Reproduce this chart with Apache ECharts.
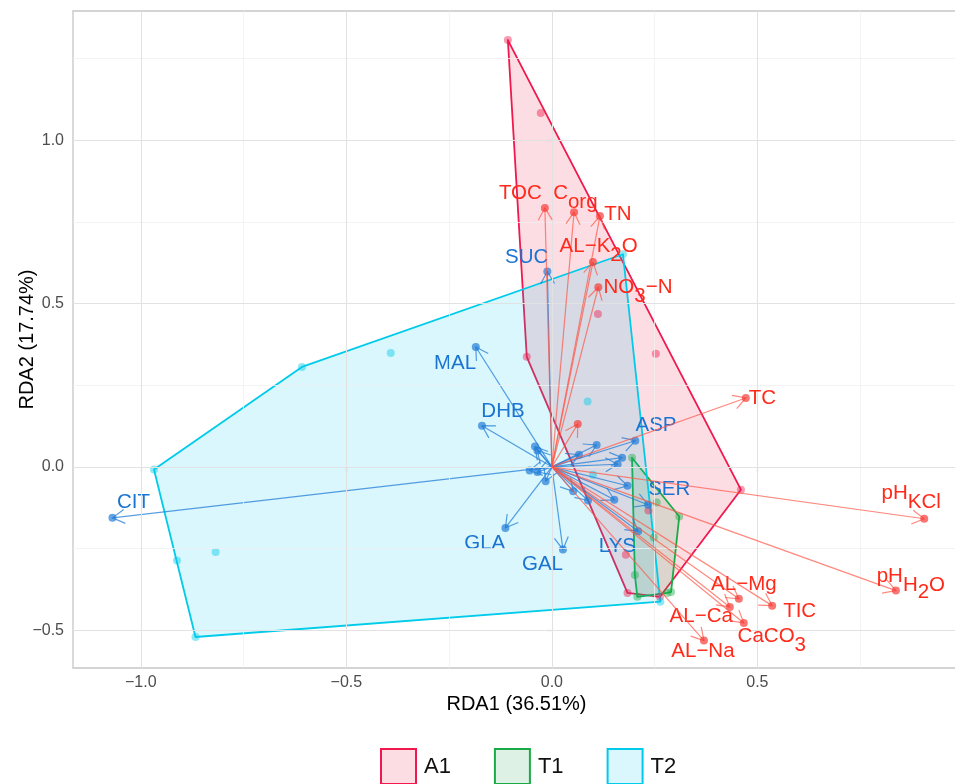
<!DOCTYPE html>
<html><head><meta charset="utf-8">
<script src="https://cdn.jsdelivr.net/npm/echarts@6/dist/echarts.min.js"></script>
<style>html,body{margin:0;padding:0;background:#fff}#c{width:955px;height:784px}</style>
</head><body><div id="c"></div>
<script>
// ---------------- data ----------------
const groupNames = ['A1', 'T1', 'T2'];
const a1X = [-0.107, -0.027, -0.061, 0.112, 0.253, 0.460, 0.184, 0.235, 0.180, 0.263];
const a1Y = [1.307, 1.084, 0.337, 0.468, 0.346, -0.070, -0.386, -0.134, -0.269, -0.398];
const t1X = [0.195, 0.255, 0.310, 0.248, 0.202, 0.208, 0.281, 0.290];
const t1Y = [0.028, -0.109, -0.152, -0.216, -0.331, -0.398, -0.386, -0.383];
const t2X = [-0.968, -0.912, -0.867, -0.818, -0.608, -0.392, 0.173, 0.087, 0.100, 0.264];
const t2Y = [-0.008, -0.287, -0.521, -0.261, 0.306, 0.349, 0.651, 0.200, -0.024, -0.413];

// environmental variables (red arrows)
const envNames = ['TOC', 'C_{org}', 'TN', 'AL−K_{2}O', 'NO_{3}−N', 'TC', 'pH_{KCl}', 'pH_{H_{2}O}', 'AL−Mg', 'TIC', 'AL−Ca', 'CaCO_{3}', 'AL−Na', ''];
const envX = [-0.017, 0.054, 0.117, 0.100, 0.113, 0.472, 0.906, 0.837, 0.455, 0.536, 0.433, 0.467, 0.370, 0.063];
const envY = [0.793, 0.780, 0.768, 0.627, 0.550, 0.211, -0.159, -0.379, -0.404, -0.425, -0.429, -0.478, -0.532, 0.131];

// metabolites (blue arrows)
const metNames = ['SUC', 'MAL', 'DHB', 'CIT', 'GLA', 'GAL', 'LYS', 'SER', 'ASP', '', '', '', '', '', '', '', '', '', '', '', '', ''];
const metX = [-0.011, -0.185, -0.170, -1.069, -0.113, 0.027, 0.210, 0.234, 0.203, -0.041, -0.035, -0.054, -0.035, -0.015, 0.066, 0.109, 0.171, 0.160, 0.184, 0.152, 0.052, 0.088];
const metY = [0.598, 0.367, 0.126, -0.156, -0.187, -0.253, -0.197, -0.116, 0.080, 0.062, 0.050, -0.011, -0.016, -0.044, 0.037, 0.067, 0.028, 0.008, -0.058, -0.101, -0.075, -0.103];

const xTicks = [-1.0, -0.5, 0.0, 0.5];
const yTicks = [-0.5, 0.0, 0.5, 1.0];
const xMinor = [-0.75, -0.25, 0.25, 0.75];
const yMinor = [-0.25, 0.25, 0.75, 1.25];

// ---------------- layout / style ----------------
const groupColors = ['#F0184C', '#1AAA47', '#00CBEA'];
const envLabelOffset = [[-24.5, -15], [1.3, -18.7], [18, -1.7], [5.7, -15.6], [39.7, 0], [16.5, 0], [-13, -25], [15, -14.5], [5, -14], [27.5, 6], [-28.6, 9], [28, 13.4], [-1, 11], [0, 0]];
const metLabelOffset = [[-20.6, -14.4], [-20.7, 16.3], [21, -14.7], [21, -15.3], [-20.7, 15.3], [-20.5, 15.3], [-20.8, 15.2], [21.2, -15], [20.7, -15.3]];
const FONT = '"Liberation Sans", Arial, Helvetica, sans-serif';
const LABEL_SIZE = 20.5;
const SUB_DROP = 9;

function rgba(hex, a) {
  const n = parseInt(hex.slice(1), 16);
  return `rgba(${(n >> 16) & 255},${(n >> 8) & 255},${n & 255},${a})`;
}
function zip(xs, ys) { return xs.map((x, i) => [x, ys[i]]); }
function hull(pts) {
  const p = pts.slice().sort((a, b) => a[0] - b[0] || a[1] - b[1]);
  const cross = (o, a, b) => (a[0] - o[0]) * (b[1] - o[1]) - (a[1] - o[1]) * (b[0] - o[0]);
  const lo = [], up = [];
  for (const q of p) { while (lo.length >= 2 && cross(lo[lo.length - 2], lo[lo.length - 1], q) <= 0) lo.pop(); lo.push(q); }
  for (let i = p.length - 1; i >= 0; i--) { const q = p[i]; while (up.length >= 2 && cross(up[up.length - 2], up[up.length - 1], q) <= 0) up.pop(); up.push(q); }
  up.pop(); lo.pop();
  return lo.concat(up);
}
const measureCtx = document.createElement('canvas').getContext('2d');
function parseLabel(s, level, out) {
  let i = 0, buf = '';
  while (i < s.length) {
    if (s[i] === '_' && s[i + 1] === '{') {
      if (buf) { out.push({ t: buf, l: level }); buf = ''; }
      let depth = 1, j = i + 2;
      while (j < s.length && depth > 0) { if (s[j] === '{') depth++; else if (s[j] === '}') depth--; j++; }
      parseLabel(s.slice(i + 2, j - 1), level + 1, out);
      i = j;
    } else { buf += s[i]; i++; }
  }
  if (buf) out.push({ t: buf, l: level });
  return out;
}
function labelElements(name, cx, cy, color) {
  const segs = parseLabel(name, 0, []);
  measureCtx.font = LABEL_SIZE + 'px ' + FONT;
  const widths = segs.map(s => measureCtx.measureText(s.t).width);
  const total = widths.reduce((a, b) => a + b, 0);
  let x = cx - total / 2;
  return segs.map((s, k) => {
    const el = {
      type: 'text', silent: true,
      style: { text: s.t, x: x, y: cy + (s.l === 0 ? 0 : (s.l === 1 ? SUB_DROP : SUB_DROP + 7)), fill: color,
        fontSize: LABEL_SIZE, fontFamily: FONT, align: 'left', verticalAlign: 'middle' }
    };
    x += widths[k];
    return el;
  });
}

const datasets = [zip(a1X, a1Y), zip(t1X, t1Y), zip(t2X, t2Y)];

const series = [];
// gridlines
const gl = (axis, v, major) => ({ [axis]: v, lineStyle: { color: major ? '#E2E2E2' : '#F0F0F0', width: major ? 1.1 : 0.8, type: 'solid' } });
series.push({
  type: 'line', data: [], z: 0, silent: true,
  markLine: {
    silent: true, symbol: ['none', 'none'], label: { show: false }, animation: false,
    data: [].concat(xMinor.map(v => gl('xAxis', v, false)), yMinor.map(v => gl('yAxis', v, false)),
      xTicks.map(v => gl('xAxis', v, true)), yTicks.map(v => gl('yAxis', v, true)))
  }
});
// hull polygons
groupNames.forEach((g, gi) => {
  const h = hull(datasets[gi]);
  series.push({
    type: 'custom', name: g, coordinateSystem: 'cartesian2d', z: 2, silent: true,
    data: h, encode: { x: 0, y: 1 },
    itemStyle: { color: groupColors[gi] },
    renderItem(params, api) {
      if (params.dataIndex !== 0) return null;
      const pts = h.map(p => api.coord(p));
      return { type: 'polygon', shape: { points: pts },
        style: { fill: rgba(groupColors[gi], 0.15), stroke: groupColors[gi], lineWidth: 1.8, lineJoin: 'round' } };
    }
  });
});
// sample points
groupNames.forEach((g, gi) => {
  series.push({
    type: 'scatter', name: g, z: 3, silent: true, data: datasets[gi], symbolSize: 8,
    itemStyle: { color: rgba(groupColors[gi], 0.55) }
  });
});
// arrows
function arrowSeries(xs, ys, names, offsets, lineColor, dotColor, textColor, z) {
  return {
    type: 'custom', coordinateSystem: 'cartesian2d', z: z, silent: true,
    data: xs.map((x, i) => [x, ys[i], i]), encode: { x: 0, y: 1 },
    renderItem(params, api) {
      const i = api.value(2);
      const o = api.coord([0, 0]);
      const p = api.coord([api.value(0), api.value(1)]);
      const ang = Math.atan2(p[1] - o[1], p[0] - o[0]);
      const L = 14, A = Math.PI / 6;
      const a1 = [p[0] - L * Math.cos(ang - A), p[1] - L * Math.sin(ang - A)];
      const a2 = [p[0] - L * Math.cos(ang + A), p[1] - L * Math.sin(ang + A)];
      const children = [
        { type: 'line', shape: { x1: o[0], y1: o[1], x2: p[0], y2: p[1] }, style: { stroke: lineColor, lineWidth: 1.2 } },
        { type: 'polyline', shape: { points: [a1, p, a2] }, style: { stroke: lineColor, lineWidth: 1.2, fill: null } },
        { type: 'circle', shape: { cx: p[0], cy: p[1], r: 4 }, style: { fill: dotColor } }
      ];
      if (names[i]) {
        const off = offsets[i];
        labelElements(names[i], p[0] + off[0], p[1] + off[1], textColor).forEach(e => children.push(e));
      }
      return { type: 'group', children };
    }
  };
}
series.push(arrowSeries(metX, metY, metNames, metLabelOffset, 'rgba(35,125,215,0.75)', 'rgba(35,125,215,0.7)', '#1A74D2', 4));
series.push(arrowSeries(envX, envY, envNames, envLabelOffset, 'rgba(255,85,70,0.7)', 'rgba(245,60,55,0.7)', '#FF2A1A', 5));

const fmt = v => (v < 0 ? '−' : '') + Math.abs(v).toFixed(1);

const option = {
  animation: false,
  backgroundColor: '#ffffff',
  grid: { left: 73, top: 11, right: -5, bottom: 116, outerBoundsMode: 'none', containLabel: false,
    show: true, borderColor: '#C6C6C6', borderWidth: 1.3, backgroundColor: 'transparent' },
  xAxis: {
    type: 'value', min: -1.165, max: 0.993,
    name: 'RDA1 (36.51%)', nameLocation: 'middle', nameGap: 26, nameMoveOverlap: false,
    nameTextStyle: { fontSize: 20, color: '#000', fontFamily: FONT },
    splitLine: { show: false }, axisLine: { show: false },
    axisTick: { show: true, customValues: xTicks, length: 5, lineStyle: { color: '#B3B3B3', width: 1.2 } },
    axisLabel: { customValues: xTicks, formatter: fmt, fontSize: 16, color: '#4D4D4D', margin: 7, fontFamily: FONT }
  },
  yAxis: {
    type: 'value', min: -0.616, max: 1.396,
    name: 'RDA2 (17.74%)', nameLocation: 'middle', nameGap: 36, nameRotate: 90, nameMoveOverlap: false,
    nameTextStyle: { fontSize: 20, color: '#000', fontFamily: FONT },
    splitLine: { show: false }, axisLine: { show: false },
    axisTick: { show: true, customValues: yTicks, length: 5, lineStyle: { color: '#B3B3B3', width: 1.2 } },
    axisLabel: { customValues: yTicks, formatter: fmt, fontSize: 16, color: '#4D4D4D', margin: 9, fontFamily: FONT }
  },
  legend: {
    left: 375, top: 743, orient: 'horizontal', itemWidth: 35, itemHeight: 35, itemGap: 43, icon: 'rect',
    selectedMode: false,
    textStyle: { fontSize: 22, color: '#111', fontFamily: FONT, padding: [0, 0, 0, 3] },
    data: groupNames.map((g, gi) => ({ name: g, icon: 'rect',
      itemStyle: { color: rgba(groupColors[gi], 0.15), borderColor: groupColors[gi], borderWidth: 2 } }))
  },
  series
};
const chart = echarts.init(document.getElementById('c'), null, { renderer: 'canvas' });
chart.setOption(option);
</script>
</body></html>
